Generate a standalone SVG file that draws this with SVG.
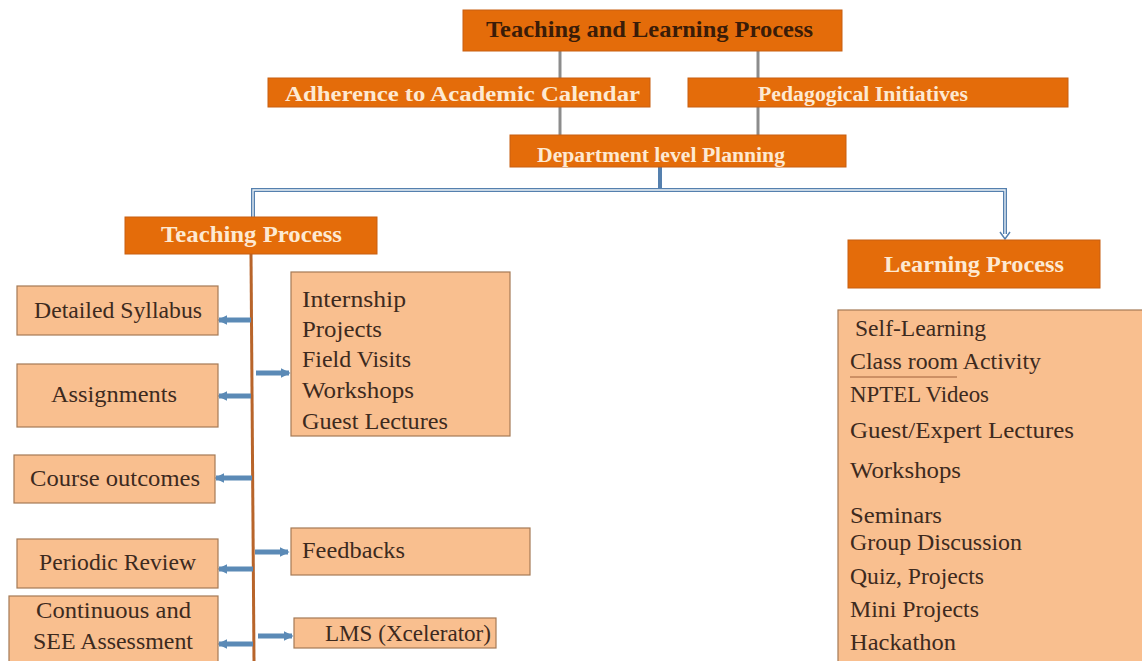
<svg xmlns="http://www.w3.org/2000/svg" width="1142" height="661" viewBox="0 0 1142 661">
<defs>
<style>
.hdr{fill:#e46c0a;stroke:#c85f10;stroke-width:1}
.lt{fill:#f9bf8f;stroke:#a57a55;stroke-width:1.2}
.ht{font-family:"Liberation Serif",serif;font-weight:bold;fill:#fde9d2}
.tt{font-family:"Liberation Serif",serif;font-weight:bold;fill:#3a1c08}
.bt{font-family:"Liberation Serif",serif;font-size:23px;fill:#3d2a1e}
.gray{stroke:#8c8c8c;stroke-width:3;fill:none}
.bo{stroke:#5580ae;stroke-width:4;fill:none}
.bi{stroke:#eef3f8;stroke-width:1.3;fill:none}
.arr{stroke:#5b8ab6;stroke-width:5;fill:none}
.vl{stroke:#b8642a;stroke-width:3;fill:none}
</style>
<marker id="ah" viewBox="0 0 6 6" refX="5" refY="3" markerWidth="2" markerHeight="2" orient="auto"><path d="M0,0 L6,3 L0,6 Z" fill="#5b8ab6"/></marker>
</defs>
<rect width="1142" height="661" fill="#ffffff"/>
<g id="connectors">
<line class="gray" x1="560" y1="51" x2="560" y2="78"/>
<line class="gray" x1="758" y1="51" x2="758" y2="78"/>
<line class="gray" x1="560" y1="107" x2="560" y2="135"/>
<line class="gray" x1="758" y1="107" x2="758" y2="135"/>
<line x1="660" y1="167" x2="660" y2="190" stroke="#5580ae" stroke-width="4"/>
<path class="bo" d="M253,217 L253,190 L1005,190 L1005,234"/>
<path class="bi" d="M253,217 L253,190 L1005,190 L1005,234"/>
<path d="M1000,232 L1005,239 L1010,232" fill="none" stroke="#5580ae" stroke-width="1.5"/>
<line class="vl" x1="251" y1="254" x2="254" y2="661"/>
<line class="arr" x1="251" y1="320" x2="219" y2="320" marker-end="url(#ah)"/>
<line class="arr" x1="251" y1="396" x2="219" y2="396" marker-end="url(#ah)"/>
<line class="arr" x1="252" y1="478" x2="216" y2="478" marker-end="url(#ah)"/>
<line class="arr" x1="253" y1="569" x2="219" y2="569" marker-end="url(#ah)"/>
<line class="arr" x1="253" y1="644" x2="219" y2="644" marker-end="url(#ah)"/>
<line class="arr" x1="256" y1="373" x2="289" y2="373" marker-end="url(#ah)"/>
<line class="arr" x1="255" y1="552" x2="288" y2="552" marker-end="url(#ah)"/>
<line class="arr" x1="258" y1="636" x2="292" y2="636" marker-end="url(#ah)"/>
</g>
<g id="top">
<rect class="hdr" x="463" y="10" width="379" height="41"/>
<text class="tt" x="486" y="37" font-size="23" textLength="327" lengthAdjust="spacingAndGlyphs">Teaching and Learning Process</text>
</g>
<g id="adherence">
<rect class="hdr" x="268" y="78" width="382" height="29"/>
<text class="ht" x="285" y="101" font-size="20" textLength="355" lengthAdjust="spacingAndGlyphs">Adherence to Academic Calendar</text>
</g>
<g id="pedagogical">
<rect class="hdr" x="688" y="78" width="380" height="29"/>
<text class="ht" x="758" y="101" font-size="20" textLength="210" lengthAdjust="spacingAndGlyphs">Pedagogical Initiatives</text>
</g>
<g id="department">
<rect class="hdr" x="510" y="135" width="336" height="32"/>
<text class="ht" x="537" y="162" font-size="20" textLength="248" lengthAdjust="spacingAndGlyphs">Department level Planning</text>
</g>
<g id="teaching">
<rect class="hdr" x="125" y="217" width="252" height="37"/>
<text class="ht" x="161" y="242" font-size="23" textLength="181" lengthAdjust="spacingAndGlyphs">Teaching Process</text>
</g>
<g id="learning">
<rect class="hdr" x="848" y="240" width="252" height="48"/>
<text class="ht" x="884" y="272" font-size="23" textLength="180" lengthAdjust="spacingAndGlyphs">Learning Process</text>
</g>
<g id="syllabus">
<rect class="lt" x="17" y="286" width="201" height="49"/>
<text class="bt" x="34" y="318" textLength="168" lengthAdjust="spacingAndGlyphs">Detailed Syllabus</text>
</g>
<g id="assignments">
<rect class="lt" x="17" y="364" width="201" height="63"/>
<text class="bt" x="51" y="402" textLength="126" lengthAdjust="spacingAndGlyphs">Assignments</text>
</g>
<g id="outcomes">
<rect class="lt" x="14" y="455" width="201" height="48"/>
<text class="bt" x="30" y="486" textLength="170" lengthAdjust="spacingAndGlyphs">Course outcomes</text>
</g>
<g id="review">
<rect class="lt" x="17" y="539" width="201" height="49"/>
<text class="bt" x="39" y="570" textLength="157" lengthAdjust="spacingAndGlyphs">Periodic Review</text>
</g>
<g id="assessment">
<rect class="lt" x="9" y="596" width="209" height="70"/>
<text class="bt" x="36" y="618" textLength="155" lengthAdjust="spacingAndGlyphs">Continuous and</text>
<text class="bt" x="33" y="649" textLength="160" lengthAdjust="spacingAndGlyphs">SEE Assessment</text>
</g>
<g id="activities">
<rect class="lt" x="291" y="272" width="219" height="164"/>
<text class="bt" x="302" y="307" textLength="104" lengthAdjust="spacingAndGlyphs">Internship</text>
<text class="bt" x="302" y="337" textLength="80" lengthAdjust="spacingAndGlyphs">Projects</text>
<text class="bt" x="302" y="367" textLength="109" lengthAdjust="spacingAndGlyphs">Field Visits</text>
<text class="bt" x="302" y="398" textLength="112" lengthAdjust="spacingAndGlyphs">Workshops</text>
<text class="bt" x="302" y="429" textLength="146" lengthAdjust="spacingAndGlyphs">Guest Lectures</text>
</g>
<g id="feedbacks">
<rect class="lt" x="291" y="528" width="239" height="47"/>
<text class="bt" x="302" y="558" textLength="103" lengthAdjust="spacingAndGlyphs">Feedbacks</text>
</g>
<g id="lms">
<rect class="lt" x="294" y="618" width="202" height="30"/>
<text class="bt" x="325" y="641" textLength="166" lengthAdjust="spacingAndGlyphs">LMS (Xcelerator)</text>
</g>
<g id="learning-list">
<rect class="lt" x="838" y="310" width="310" height="356"/>
<text class="bt" x="855" y="336" textLength="131" lengthAdjust="spacingAndGlyphs">Self-Learning</text>
<text class="bt" x="850" y="369" textLength="191" lengthAdjust="spacingAndGlyphs">Class room Activity</text>
<line x1="850" y1="377" x2="957" y2="377" stroke="#a0603a" stroke-width="1"/>
<text class="bt" x="850" y="402" textLength="139" lengthAdjust="spacingAndGlyphs">NPTEL Videos</text>
<text class="bt" x="850" y="438" textLength="224" lengthAdjust="spacingAndGlyphs">Guest/Expert Lectures</text>
<text class="bt" x="850" y="478" textLength="111" lengthAdjust="spacingAndGlyphs">Workshops</text>
<text class="bt" x="850" y="523" textLength="92" lengthAdjust="spacingAndGlyphs">Seminars</text>
<text class="bt" x="850" y="550" textLength="172" lengthAdjust="spacingAndGlyphs">Group Discussion</text>
<text class="bt" x="850" y="584" textLength="134" lengthAdjust="spacingAndGlyphs">Quiz, Projects</text>
<text class="bt" x="850" y="617" textLength="129" lengthAdjust="spacingAndGlyphs">Mini Projects</text>
<text class="bt" x="850" y="650" textLength="106" lengthAdjust="spacingAndGlyphs">Hackathon</text>
</g>
</svg>
